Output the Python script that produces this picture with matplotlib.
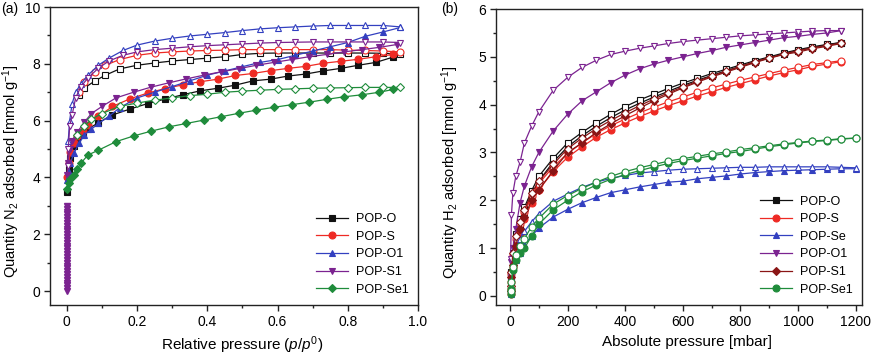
import matplotlib
matplotlib.use("Agg")
import matplotlib.pyplot as plt
from matplotlib.ticker import MultipleLocator

plt.rcParams['font.family'] = ['Liberation Sans', 'DejaVu Sans']
plt.rcParams['mathtext.fontset'] = 'custom'
plt.rcParams['mathtext.rm'] = 'Liberation Sans'
plt.rcParams['mathtext.it'] = 'Liberation Sans:italic'

# ---------------- Panel (a): N2 isotherms ----------------
a_names = ["POP-O", "POP-S", "POP-O1", "POP-S1", "POP-Se1"]

pO_ads = [0.0, 0.005, 0.01, 0.02, 0.03, 0.045, 0.06, 0.09, 0.13, 0.18, 0.23, 0.28, 0.33, 0.38, 0.43, 0.48, 0.53, 0.58, 0.63, 0.68, 0.73, 0.78, 0.83, 0.88, 0.93]
vO_ads = [3.5, 4.3, 4.7, 5.1, 5.3, 5.5, 5.7, 5.93, 6.2, 6.41, 6.6, 6.76, 6.91, 7.05, 7.14, 7.25, 7.4, 7.46, 7.57, 7.64, 7.75, 7.84, 7.95, 8.05, 8.24]
pO_des = [0.95, 0.9, 0.85, 0.8, 0.75, 0.7, 0.65, 0.6, 0.55, 0.5, 0.45, 0.4, 0.35, 0.3, 0.25, 0.2, 0.15, 0.11, 0.08, 0.05, 0.035]
vO_des = [8.35, 8.37, 8.38, 8.38, 8.38, 8.38, 8.38, 8.38, 8.37, 8.33, 8.25, 8.2, 8.15, 8.1, 8.03, 7.95, 7.82, 7.6, 7.4, 7.15, 6.9]

pS_ads = pO_ads
vS_ads = [4.0, 4.5, 4.9, 5.2, 5.45, 5.65, 5.85, 6.15, 6.5, 6.77, 6.97, 7.13, 7.26, 7.37, 7.46, 7.59, 7.66, 7.76, 7.84, 7.91, 8.02, 8.09, 8.16, 8.25, 8.33]
pS_des = pO_des
vS_des = [8.42, 8.45, 8.47, 8.48, 8.5, 8.5, 8.5, 8.5, 8.5, 8.5, 8.48, 8.47, 8.45, 8.42, 8.38, 8.3, 8.15, 7.95, 7.7, 7.35, 7.0]

pO1_ads = [0.0, 0.005, 0.01, 0.02, 0.035, 0.05, 0.07, 0.09, 0.12, 0.15, 0.2, 0.25, 0.3, 0.35, 0.4, 0.45, 0.5, 0.55, 0.6, 0.65, 0.7, 0.75, 0.8, 0.85, 0.9, 0.95]
vO1_ads = [3.9, 4.2, 4.5, 4.85, 5.2, 5.5, 5.7, 5.9, 6.15, 6.45, 6.8, 7.0, 7.2, 7.4, 7.6, 7.75, 7.9, 8.05, 8.15, 8.3, 8.45, 8.6, 8.75, 8.97, 9.12, 9.28]
pO1_des = [0.95, 0.9, 0.85, 0.8, 0.75, 0.7, 0.65, 0.6, 0.55, 0.5, 0.45, 0.4, 0.35, 0.3, 0.25, 0.2, 0.16, 0.12, 0.09, 0.06, 0.04, 0.025, 0.015, 0.008, 0.004]
vO1_des = [9.3, 9.35, 9.35, 9.35, 9.35, 9.33, 9.3, 9.27, 9.23, 9.17, 9.1, 9.04, 8.98, 8.9, 8.8, 8.66, 8.47, 8.2, 7.95, 7.6, 7.3, 7.0, 6.6, 6.0, 5.3]

pS1_low = [0.0] * 31
vS1_low = [0.0, 0.1, 0.2, 0.3, 0.4, 0.5, 0.6, 0.7, 0.8, 0.9, 1.0, 1.1, 1.2, 1.3, 1.4, 1.5, 1.6, 1.7, 1.8, 1.9, 2.0, 2.1, 2.2, 2.3, 2.4, 2.5, 2.6, 2.7, 2.8, 2.9, 3.0]
pS1_ads = [0.0, 0.003, 0.008, 0.015, 0.03, 0.05, 0.07, 0.1, 0.14, 0.19, 0.24, 0.29, 0.34, 0.39, 0.44, 0.49, 0.54, 0.59, 0.64, 0.69, 0.74, 0.79, 0.84, 0.89, 0.94]
vS1_ads = [4.1, 4.5, 5.0, 5.3, 5.6, 5.95, 6.25, 6.5, 6.8, 7.0, 7.18, 7.33, 7.47, 7.6, 7.72, 7.83, 7.95, 8.05, 8.15, 8.25, 8.33, 8.42, 8.5, 8.58, 8.68]
pS1_des = [0.95, 0.9, 0.85, 0.8, 0.75, 0.7, 0.65, 0.6, 0.55, 0.5, 0.45, 0.4, 0.35, 0.3, 0.25, 0.2, 0.16, 0.12, 0.09, 0.06, 0.04, 0.025, 0.015, 0.008, 0.004, 0.002]
vS1_des = [8.75, 8.77, 8.77, 8.77, 8.77, 8.77, 8.76, 8.75, 8.73, 8.7, 8.67, 8.64, 8.6, 8.55, 8.5, 8.42, 8.3, 8.1, 7.85, 7.5, 7.2, 6.8, 6.2, 5.8, 5.0, 4.4]

pSe1_ads = [0.0, 0.005, 0.01, 0.02, 0.03, 0.04, 0.06, 0.09, 0.14, 0.19, 0.24, 0.29, 0.34, 0.39, 0.44, 0.49, 0.54, 0.59, 0.64, 0.69, 0.74, 0.79, 0.84, 0.89, 0.93]
vSe1_ads = [3.6, 3.8, 3.95, 4.1, 4.3, 4.5, 4.79, 4.96, 5.26, 5.46, 5.63, 5.78, 5.9, 6.02, 6.14, 6.26, 6.37, 6.47, 6.56, 6.65, 6.75, 6.84, 6.91, 7.0, 7.1]
pSe1_des = [0.95, 0.9, 0.85, 0.8, 0.75, 0.7, 0.65, 0.6, 0.55, 0.5, 0.45, 0.4, 0.35, 0.3, 0.25, 0.2, 0.15, 0.1, 0.07, 0.05, 0.03]
vSe1_des = [7.17, 7.17, 7.17, 7.16, 7.15, 7.14, 7.12, 7.1, 7.07, 7.04, 7.0, 6.93, 6.88, 6.8, 6.72, 6.62, 6.5, 6.25, 6.05, 5.8, 5.5]

# ---------------- Panel (b): H2 isotherms ----------------
b_names = ["POP-O", "POP-S", "POP-Se", "POP-O1", "POP-S1", "POP-Se1"]
P_b = [2, 5, 10, 20, 35, 50, 75, 100, 150, 200, 250, 300, 350, 400, 450, 500, 550, 600, 650, 700, 750, 800, 850, 900, 950, 1000, 1050, 1100, 1150]
P_b12 = [2, 5, 10, 20, 35, 50, 75, 100, 150, 200, 250, 300, 350, 400, 450, 500, 550, 600, 650, 700, 750, 800, 850, 900, 950, 1000, 1050, 1100, 1150, 1200]

hO_ads = [0.1, 0.35, 0.7, 1.1, 1.45, 1.75, 2.1, 2.4, 2.8, 3.12, 3.35, 3.55, 3.73, 3.89, 4.03, 4.16, 4.28, 4.4, 4.51, 4.61, 4.71, 4.8, 4.89, 4.98, 5.06, 5.13, 5.19, 5.25, 5.3]
hO_des = [0.2, 0.5, 0.9, 1.3, 1.6, 1.85, 2.2, 2.5, 2.88, 3.2, 3.42, 3.62, 3.8, 3.96, 4.1, 4.22, 4.34, 4.45, 4.55, 4.65, 4.74, 4.83, 4.92, 5.0, 5.08, 5.15, 5.21, 5.26, 5.3]
hS_ads = [0.05, 0.3, 0.6, 1.0, 1.3, 1.6, 1.95, 2.22, 2.6, 2.9, 3.12, 3.32, 3.48, 3.62, 3.75, 3.87, 3.98, 4.08, 4.18, 4.27, 4.36, 4.44, 4.52, 4.6, 4.67, 4.73, 4.8, 4.85, 4.9]
hS_des = [0.15, 0.45, 0.85, 1.2, 1.5, 1.75, 2.1, 2.35, 2.7, 2.98, 3.2, 3.4, 3.56, 3.7, 3.83, 3.95, 4.06, 4.16, 4.26, 4.35, 4.43, 4.51, 4.58, 4.65, 4.72, 4.78, 4.84, 4.88, 4.92]
hSe_ads = [0.05, 0.3, 0.6, 0.75, 0.9, 1.08, 1.25, 1.42, 1.65, 1.81, 1.95, 2.06, 2.16, 2.22, 2.28, 2.33, 2.38, 2.4, 2.45, 2.48, 2.51, 2.55, 2.58, 2.6, 2.62, 2.63, 2.64, 2.65, 2.66, 2.66]
hSe_des = [0.1, 0.5, 0.8, 1.0, 1.2, 1.35, 1.55, 1.72, 1.98, 2.13, 2.27, 2.38, 2.46, 2.52, 2.57, 2.6, 2.63, 2.65, 2.66, 2.67, 2.68, 2.69, 2.69, 2.7, 2.7, 2.7, 2.7, 2.7, 2.69, 2.68]
hO1_ads = [0.3, 0.7, 1.0, 1.4, 1.95, 2.3, 2.7, 3.0, 3.45, 3.8, 4.08, 4.27, 4.46, 4.62, 4.75, 4.85, 4.93, 5.0, 5.07, 5.13, 5.2, 5.25, 5.3, 5.35, 5.4, 5.43, 5.47, 5.5, 5.55]
hO1_des = [0.78, 1.7, 2.15, 2.5, 2.8, 3.2, 3.55, 3.85, 4.3, 4.57, 4.78, 4.93, 5.05, 5.12, 5.18, 5.23, 5.28, 5.32, 5.35, 5.38, 5.41, 5.44, 5.46, 5.48, 5.5, 5.52, 5.54, 5.55, 5.55]
hS1_ads = [0.1, 0.4, 0.65, 1.05, 1.4, 1.65, 2.0, 2.22, 2.62, 3.0, 3.2, 3.42, 3.6, 3.77, 3.93, 4.08, 4.22, 4.35, 4.47, 4.58, 4.68, 4.78, 4.88, 4.97, 5.05, 5.1, 5.17, 5.22, 5.28]
hS1_des = [0.2, 0.5, 0.9, 1.25, 1.55, 1.8, 2.15, 2.4, 2.75, 3.08, 3.3, 3.5, 3.67, 3.83, 3.98, 4.12, 4.25, 4.37, 4.49, 4.6, 4.7, 4.8, 4.9, 4.98, 5.06, 5.13, 5.19, 5.24, 5.29]
hSe1_ads = [0.05, 0.15, 0.55, 0.75, 0.9, 1.0, 1.25, 1.5, 1.8, 2.0, 2.18, 2.32, 2.44, 2.54, 2.62, 2.7, 2.77, 2.83, 2.88, 2.93, 2.98, 3.02, 3.07, 3.12, 3.16, 3.2, 3.23, 3.25, 3.28, 3.3]
hSe1_des = [0.1, 0.3, 0.6, 0.85, 1.05, 1.2, 1.45, 1.62, 1.92, 2.1, 2.25, 2.38, 2.5, 2.6, 2.68, 2.75, 2.82, 2.87, 2.92, 2.97, 3.01, 3.06, 3.1, 3.14, 3.18, 3.21, 3.24, 3.26, 3.29, 3.3]

# ---------------- styles ----------------
BLACK = "#111111"
RED = "#ee2a24"
BLUE = "#3340c0"
PURPLE = "#7b2390"
GREEN = "#1f8c3b"
DRED = "#8a1515"
MS = 5
LW = 0.9


def iso(ax, x_ads, y_ads, x_des, y_des, color, marker, label, ms=MS):
    ax.plot(x_ads, y_ads, color=color, marker=marker, ms=ms, lw=LW,
            mfc=color, mec=color, mew=0.8, label=label, zorder=3)
    ax.plot(x_des, y_des, color=color, marker=marker, ms=ms, lw=LW,
            mfc="white", mec=color, mew=0.8, zorder=3)


def style(ax):
    for s in ax.spines.values():
        s.set_linewidth(1.0)
        s.set_color("#222222")
    ax.tick_params(which="both", direction="out", top=False, right=False,
                   labelsize=10, color="#222222", pad=2.5)
    ax.tick_params(which="major", length=4.5, width=1)
    ax.tick_params(which="minor", length=2.5, width=1)


fig = plt.figure(figsize=(8.71, 3.54), dpi=100)

ax1 = fig.add_axes([0.0574, 0.1384, 0.4225, 0.8418])
iso(ax1, pO_ads, vO_ads, pO_des, vO_des, BLACK, "s", a_names[0], ms=4.5)
iso(ax1, pS_ads, vS_ads, pS_des, vS_des, RED, "o", a_names[1])
iso(ax1, pO1_ads, vO1_ads, pO1_des, vO1_des, BLUE, "^", a_names[2])
ax1.plot(pS1_low, vS1_low, color=PURPLE, marker="v", ms=MS, lw=LW, zorder=3)
iso(ax1, pS1_ads, vS1_ads, pS1_des, vS1_des, PURPLE, "v", a_names[3])
iso(ax1, pSe1_ads, vSe1_ads, pSe1_des, vSe1_des, GREEN, "D", a_names[4], ms=4.5)
ax1.set_xlim(-0.048, 1.0)
ax1.set_ylim(-0.49, 10)
ax1.xaxis.set_minor_locator(MultipleLocator(0.1))
ax1.yaxis.set_major_locator(MultipleLocator(2))
ax1.yaxis.set_minor_locator(MultipleLocator(1))
ax1.set_xticks([0, 0.2, 0.4, 0.6, 0.8, 1.0])
ax1.set_xticklabels(["0", "0.2", "0.4", "0.6", "0.8", "1.0"])
style(ax1)
ax1.set_xlabel(r"Relative pressure ($\it{p}$/$\it{p}^0$)", fontsize=11)
ax1.set_ylabel(r"Quantity N$_2$ adsorbed [mmol g$^{-1}$]", fontsize=10.5)
ax1.xaxis.set_label_coords(0.522, -0.097)
ax1.yaxis.set_label_coords(-0.077, 0.45)
ax1.legend(loc="lower right", frameon=False, fontsize=9, handlelength=2.6,
           handletextpad=0.6, labelspacing=0.45, borderaxespad=0.35)
fig.text(0.001, 0.975, "(a)", fontsize=10, ha="left", va="center")

ax2 = fig.add_axes([0.569, 0.1384, 0.4206, 0.836])
iso(ax2, P_b, hO_ads, P_b, hO_des, BLACK, "s", b_names[0], ms=4.5)
iso(ax2, P_b, hS_ads, P_b, hS_des, RED, "o", b_names[1])
iso(ax2, P_b12, hSe_ads, P_b12, hSe_des, BLUE, "^", b_names[2])
iso(ax2, P_b, hO1_ads, P_b, hO1_des, PURPLE, "v", b_names[3])
iso(ax2, P_b, hS1_ads, P_b, hS1_des, DRED, "D", b_names[4], ms=4.5)
iso(ax2, P_b12, hSe1_ads, P_b12, hSe1_des, GREEN, "o", b_names[5])
ax2.set_xlim(-50, 1222)
ax2.set_ylim(-0.19, 6)
ax2.xaxis.set_major_locator(MultipleLocator(200))
ax2.xaxis.set_minor_locator(MultipleLocator(100))
ax2.yaxis.set_major_locator(MultipleLocator(1))
ax2.yaxis.set_minor_locator(MultipleLocator(0.5))
style(ax2)
ax2.set_xlabel("Absolute pressure [mbar]", fontsize=11)
ax2.set_ylabel(r"Quantity H$_2$ adsorbed [mmol g$^{-1}$]", fontsize=10.5)
ax2.xaxis.set_label_coords(0.522, -0.102)
ax2.yaxis.set_label_coords(-0.095, 0.45)
ax2.legend(loc="lower right", frameon=False, fontsize=9, handlelength=2.6,
           handletextpad=0.6, labelspacing=0.45, borderaxespad=0.35)
fig.text(0.507, 0.975, "(b)", fontsize=10, ha="left", va="center")

fig.savefig("out.png", dpi=100)
